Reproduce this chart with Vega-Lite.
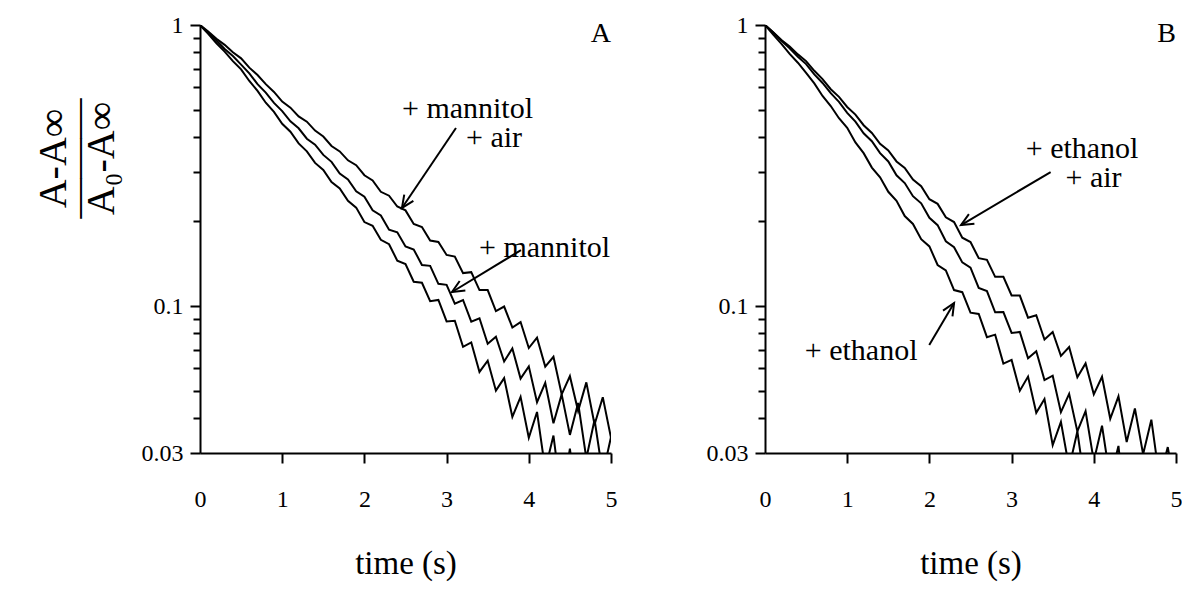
{
  "$schema": "https://vega.github.io/schema/vega-lite/v6.json",
  "padding": {"left": 33, "top": 13, "right": 5, "bottom": 5},
  "background": "white",
  "config": {
    "view": {"stroke": null},
    "text": {"font": "Liberation Serif", "color": "black"},
    "style": {"guide-label": {"fontSize": 24, "font": "Liberation Serif", "fill": "black"}},
    "axis": {
      "labelFont": "Liberation Serif", "titleFont": "Liberation Serif",
      "labelColor": "black", "titleColor": "black",
      "domainColor": "black", "tickColor": "black",
      "domainWidth": 2, "tickWidth": 2, "grid": false,
      "labelFontSize": 24, "titleFontWeight": "normal"
    }
  },
  "datasets": {
    "curves": [
      {"p":"A","s":"u","t":0,"v":1},{"p":"A","s":"u","t":0.1,"v":0.948},{"p":"A","s":"u","t":0.2,"v":0.894},{"p":"A","s":"u","t":0.3,"v":0.850},{"p":"A","s":"u","t":0.4,"v":0.800},{"p":"A","s":"u","t":0.5,"v":0.761},{"p":"A","s":"u","t":0.6,"v":0.705},{"p":"A","s":"u","t":0.7,"v":0.664},{"p":"A","s":"u","t":0.8,"v":0.616},{"p":"A","s":"u","t":0.9,"v":0.578},{"p":"A","s":"u","t":1.0,"v":0.534},{"p":"A","s":"u","t":1.1,"v":0.508},{"p":"A","s":"u","t":1.2,"v":0.473},{"p":"A","s":"u","t":1.3,"v":0.453},{"p":"A","s":"u","t":1.4,"v":0.421},{"p":"A","s":"u","t":1.5,"v":0.401},{"p":"A","s":"u","t":1.6,"v":0.371},{"p":"A","s":"u","t":1.7,"v":0.355},{"p":"A","s":"u","t":1.8,"v":0.330},{"p":"A","s":"u","t":1.9,"v":0.317},{"p":"A","s":"u","t":2.0,"v":0.292},{"p":"A","s":"u","t":2.1,"v":0.280},{"p":"A","s":"u","t":2.2,"v":0.255},{"p":"A","s":"u","t":2.3,"v":0.247},{"p":"A","s":"u","t":2.4,"v":0.226},{"p":"A","s":"u","t":2.5,"v":0.219},{"p":"A","s":"u","t":2.6,"v":0.196},{"p":"A","s":"u","t":2.7,"v":0.191},{"p":"A","s":"u","t":2.8,"v":0.171},{"p":"A","s":"u","t":2.9,"v":0.169},{"p":"A","s":"u","t":3.0,"v":0.152},{"p":"A","s":"u","t":3.1,"v":0.150},{"p":"A","s":"u","t":3.2,"v":0.131},{"p":"A","s":"u","t":3.3,"v":0.132},{"p":"A","s":"u","t":3.4,"v":0.114},{"p":"A","s":"u","t":3.5,"v":0.114},{"p":"A","s":"u","t":3.6,"v":0.096},{"p":"A","s":"u","t":3.7,"v":0.0996},{"p":"A","s":"u","t":3.8,"v":0.0839},{"p":"A","s":"u","t":3.9,"v":0.0877},{"p":"A","s":"u","t":4.0,"v":0.0709},{"p":"A","s":"u","t":4.1,"v":0.0772},{"p":"A","s":"u","t":4.2,"v":0.0609},{"p":"A","s":"u","t":4.3,"v":0.0660},{"p":"A","s":"u","t":4.4,"v":0.0485},{"p":"A","s":"u","t":4.5,"v":0.0563},{"p":"A","s":"u","t":4.6,"v":0.0423},{"p":"A","s":"u","t":4.7,"v":0.0535},{"p":"A","s":"u","t":4.8,"v":0.0379},{"p":"A","s":"u","t":4.9,"v":0.0474},{"p":"A","s":"u","t":5.0,"v":0.0340},
      {"p":"A","s":"m","t":0,"v":1},{"p":"A","s":"m","t":0.1,"v":0.937},{"p":"A","s":"m","t":0.2,"v":0.881},{"p":"A","s":"m","t":0.3,"v":0.822},{"p":"A","s":"m","t":0.4,"v":0.776},{"p":"A","s":"m","t":0.5,"v":0.723},{"p":"A","s":"m","t":0.6,"v":0.673},{"p":"A","s":"m","t":0.7,"v":0.616},{"p":"A","s":"m","t":0.8,"v":0.575},{"p":"A","s":"m","t":0.9,"v":0.528},{"p":"A","s":"m","t":1.0,"v":0.494},{"p":"A","s":"m","t":1.1,"v":0.454},{"p":"A","s":"m","t":1.2,"v":0.429},{"p":"A","s":"m","t":1.3,"v":0.394},{"p":"A","s":"m","t":1.4,"v":0.375},{"p":"A","s":"m","t":1.5,"v":0.345},{"p":"A","s":"m","t":1.6,"v":0.326},{"p":"A","s":"m","t":1.7,"v":0.296},{"p":"A","s":"m","t":1.8,"v":0.282},{"p":"A","s":"m","t":1.9,"v":0.256},{"p":"A","s":"m","t":2.0,"v":0.245},{"p":"A","s":"m","t":2.1,"v":0.219},{"p":"A","s":"m","t":2.2,"v":0.210},{"p":"A","s":"m","t":2.3,"v":0.187},{"p":"A","s":"m","t":2.4,"v":0.183},{"p":"A","s":"m","t":2.5,"v":0.163},{"p":"A","s":"m","t":2.6,"v":0.159},{"p":"A","s":"m","t":2.7,"v":0.140},{"p":"A","s":"m","t":2.8,"v":0.139},{"p":"A","s":"m","t":2.9,"v":0.120},{"p":"A","s":"m","t":3.0,"v":0.119},{"p":"A","s":"m","t":3.1,"v":0.102},{"p":"A","s":"m","t":3.2,"v":0.1051},{"p":"A","s":"m","t":3.3,"v":0.0880},{"p":"A","s":"m","t":3.4,"v":0.0905},{"p":"A","s":"m","t":3.5,"v":0.0734},{"p":"A","s":"m","t":3.6,"v":0.0778},{"p":"A","s":"m","t":3.7,"v":0.0635},{"p":"A","s":"m","t":3.8,"v":0.0707},{"p":"A","s":"m","t":3.9,"v":0.0552},{"p":"A","s":"m","t":4.0,"v":0.0610},{"p":"A","s":"m","t":4.1,"v":0.0455},{"p":"A","s":"m","t":4.2,"v":0.0533},{"p":"A","s":"m","t":4.3,"v":0.0383},{"p":"A","s":"m","t":4.4,"v":0.0485},{"p":"A","s":"m","t":4.5,"v":0.0348},{"p":"A","s":"m","t":4.6,"v":0.0452},{"p":"A","s":"m","t":4.7,"v":0.0287},{"p":"A","s":"m","t":4.8,"v":0.0394},{"p":"A","s":"m","t":4.9,"v":0.0252},{"p":"A","s":"m","t":5.0,"v":0.0342},
      {"p":"A","s":"l","t":0,"v":1},{"p":"A","s":"l","t":0.1,"v":0.930},{"p":"A","s":"l","t":0.2,"v":0.861},{"p":"A","s":"l","t":0.3,"v":0.804},{"p":"A","s":"l","t":0.4,"v":0.744},{"p":"A","s":"l","t":0.5,"v":0.695},{"p":"A","s":"l","t":0.6,"v":0.632},{"p":"A","s":"l","t":0.7,"v":0.583},{"p":"A","s":"l","t":0.8,"v":0.529},{"p":"A","s":"l","t":0.9,"v":0.491},{"p":"A","s":"l","t":1.0,"v":0.445},{"p":"A","s":"l","t":1.1,"v":0.417},{"p":"A","s":"l","t":1.2,"v":0.379},{"p":"A","s":"l","t":1.3,"v":0.355},{"p":"A","s":"l","t":1.4,"v":0.323},{"p":"A","s":"l","t":1.5,"v":0.305},{"p":"A","s":"l","t":1.6,"v":0.276},{"p":"A","s":"l","t":1.7,"v":0.262},{"p":"A","s":"l","t":1.8,"v":0.237},{"p":"A","s":"l","t":1.9,"v":0.224},{"p":"A","s":"l","t":2.0,"v":0.199},{"p":"A","s":"l","t":2.1,"v":0.193},{"p":"A","s":"l","t":2.2,"v":0.172},{"p":"A","s":"l","t":2.3,"v":0.166},{"p":"A","s":"l","t":2.4,"v":0.145},{"p":"A","s":"l","t":2.5,"v":0.141},{"p":"A","s":"l","t":2.6,"v":0.122},{"p":"A","s":"l","t":2.7,"v":0.121},{"p":"A","s":"l","t":2.8,"v":0.104},{"p":"A","s":"l","t":2.9,"v":0.1051},{"p":"A","s":"l","t":3.0,"v":0.0882},{"p":"A","s":"l","t":3.1,"v":0.0886},{"p":"A","s":"l","t":3.2,"v":0.0716},{"p":"A","s":"l","t":3.3,"v":0.0742},{"p":"A","s":"l","t":3.4,"v":0.0583},{"p":"A","s":"l","t":3.5,"v":0.0639},{"p":"A","s":"l","t":3.6,"v":0.0500},{"p":"A","s":"l","t":3.7,"v":0.0554},{"p":"A","s":"l","t":3.8,"v":0.0403},{"p":"A","s":"l","t":3.9,"v":0.0475},{"p":"A","s":"l","t":4.0,"v":0.0340},{"p":"A","s":"l","t":4.1,"v":0.0420},{"p":"A","s":"l","t":4.2,"v":0.0262},{"p":"A","s":"l","t":4.3,"v":0.0346},{"p":"A","s":"l","t":4.4,"v":0.0203},{"p":"A","s":"l","t":4.5,"v":0.0311},{"p":"A","s":"l","t":4.6,"v":0.0181},{"p":"A","s":"l","t":4.7,"v":0.0283},{"p":"A","s":"l","t":4.8,"v":0.0136},{"p":"A","s":"l","t":4.9,"v":0.0260},{"p":"A","s":"l","t":5.0,"v":0.0116},
      {"p":"B","s":"u","t":0,"v":1},{"p":"B","s":"u","t":0.1,"v":0.943},{"p":"B","s":"u","t":0.2,"v":0.885},{"p":"B","s":"u","t":0.3,"v":0.838},{"p":"B","s":"u","t":0.4,"v":0.786},{"p":"B","s":"u","t":0.5,"v":0.744},{"p":"B","s":"u","t":0.6,"v":0.687},{"p":"B","s":"u","t":0.7,"v":0.642},{"p":"B","s":"u","t":0.8,"v":0.591},{"p":"B","s":"u","t":0.9,"v":0.555},{"p":"B","s":"u","t":1.0,"v":0.511},{"p":"B","s":"u","t":1.1,"v":0.480},{"p":"B","s":"u","t":1.2,"v":0.440},{"p":"B","s":"u","t":1.3,"v":0.413},{"p":"B","s":"u","t":1.4,"v":0.378},{"p":"B","s":"u","t":1.5,"v":0.358},{"p":"B","s":"u","t":1.6,"v":0.327},{"p":"B","s":"u","t":1.7,"v":0.310},{"p":"B","s":"u","t":1.8,"v":0.282},{"p":"B","s":"u","t":1.9,"v":0.267},{"p":"B","s":"u","t":2.0,"v":0.240},{"p":"B","s":"u","t":2.1,"v":0.231},{"p":"B","s":"u","t":2.2,"v":0.207},{"p":"B","s":"u","t":2.3,"v":0.199},{"p":"B","s":"u","t":2.4,"v":0.175},{"p":"B","s":"u","t":2.5,"v":0.169},{"p":"B","s":"u","t":2.6,"v":0.148},{"p":"B","s":"u","t":2.7,"v":0.146},{"p":"B","s":"u","t":2.8,"v":0.127},{"p":"B","s":"u","t":2.9,"v":0.127},{"p":"B","s":"u","t":3.0,"v":0.109},{"p":"B","s":"u","t":3.1,"v":0.109},{"p":"B","s":"u","t":3.2,"v":0.0909},{"p":"B","s":"u","t":3.3,"v":0.0927},{"p":"B","s":"u","t":3.4,"v":0.0760},{"p":"B","s":"u","t":3.5,"v":0.0809},{"p":"B","s":"u","t":3.6,"v":0.0665},{"p":"B","s":"u","t":3.7,"v":0.0715},{"p":"B","s":"u","t":3.8,"v":0.0558},{"p":"B","s":"u","t":3.9,"v":0.0625},{"p":"B","s":"u","t":4.0,"v":0.0485},{"p":"B","s":"u","t":4.1,"v":0.0560},{"p":"B","s":"u","t":4.2,"v":0.0397},{"p":"B","s":"u","t":4.3,"v":0.0477},{"p":"B","s":"u","t":4.4,"v":0.0328},{"p":"B","s":"u","t":4.5,"v":0.0432},{"p":"B","s":"u","t":4.6,"v":0.0297},{"p":"B","s":"u","t":4.7,"v":0.0394},{"p":"B","s":"u","t":4.8,"v":0.0242},{"p":"B","s":"u","t":4.9,"v":0.0315},{"p":"B","s":"u","t":5.0,"v":0.0213},
      {"p":"B","s":"m","t":0,"v":1},{"p":"B","s":"m","t":0.1,"v":0.940},{"p":"B","s":"m","t":0.2,"v":0.878},{"p":"B","s":"m","t":0.3,"v":0.827},{"p":"B","s":"m","t":0.4,"v":0.771},{"p":"B","s":"m","t":0.5,"v":0.726},{"p":"B","s":"m","t":0.6,"v":0.667},{"p":"B","s":"m","t":0.7,"v":0.622},{"p":"B","s":"m","t":0.8,"v":0.572},{"p":"B","s":"m","t":0.9,"v":0.533},{"p":"B","s":"m","t":1.0,"v":0.487},{"p":"B","s":"m","t":1.1,"v":0.453},{"p":"B","s":"m","t":1.2,"v":0.412},{"p":"B","s":"m","t":1.3,"v":0.386},{"p":"B","s":"m","t":1.4,"v":0.350},{"p":"B","s":"m","t":1.5,"v":0.327},{"p":"B","s":"m","t":1.6,"v":0.292},{"p":"B","s":"m","t":1.7,"v":0.274},{"p":"B","s":"m","t":1.8,"v":0.246},{"p":"B","s":"m","t":1.9,"v":0.232},{"p":"B","s":"m","t":2.0,"v":0.206},{"p":"B","s":"m","t":2.1,"v":0.194},{"p":"B","s":"m","t":2.2,"v":0.170},{"p":"B","s":"m","t":2.3,"v":0.162},{"p":"B","s":"m","t":2.4,"v":0.143},{"p":"B","s":"m","t":2.5,"v":0.137},{"p":"B","s":"m","t":2.6,"v":0.116},{"p":"B","s":"m","t":2.7,"v":0.113},{"p":"B","s":"m","t":2.8,"v":0.095},{"p":"B","s":"m","t":2.9,"v":0.0952},{"p":"B","s":"m","t":3.0,"v":0.0802},{"p":"B","s":"m","t":3.1,"v":0.0809},{"p":"B","s":"m","t":3.2,"v":0.0652},{"p":"B","s":"m","t":3.3,"v":0.0691},{"p":"B","s":"m","t":3.4,"v":0.0545},{"p":"B","s":"m","t":3.5,"v":0.0565},{"p":"B","s":"m","t":3.6,"v":0.0419},{"p":"B","s":"m","t":3.7,"v":0.0487},{"p":"B","s":"m","t":3.8,"v":0.0358},{"p":"B","s":"m","t":3.9,"v":0.0423},{"p":"B","s":"m","t":4.0,"v":0.0281},{"p":"B","s":"m","t":4.1,"v":0.0375},{"p":"B","s":"m","t":4.2,"v":0.0241},{"p":"B","s":"m","t":4.3,"v":0.0318},{"p":"B","s":"m","t":4.4,"v":0.0168},{"p":"B","s":"m","t":4.5,"v":0.0269},{"p":"B","s":"m","t":4.6,"v":0.0141},{"p":"B","s":"m","t":4.7,"v":0.0265},{"p":"B","s":"m","t":4.8,"v":0.0121},{"p":"B","s":"m","t":4.9,"v":0.0227},{"p":"B","s":"m","t":5.0,"v":0.0105},
      {"p":"B","s":"l","t":0,"v":1},{"p":"B","s":"l","t":0.1,"v":0.924},{"p":"B","s":"l","t":0.2,"v":0.857},{"p":"B","s":"l","t":0.3,"v":0.789},{"p":"B","s":"l","t":0.4,"v":0.734},{"p":"B","s":"l","t":0.5,"v":0.675},{"p":"B","s":"l","t":0.6,"v":0.620},{"p":"B","s":"l","t":0.7,"v":0.559},{"p":"B","s":"l","t":0.8,"v":0.515},{"p":"B","s":"l","t":0.9,"v":0.466},{"p":"B","s":"l","t":1.0,"v":0.431},{"p":"B","s":"l","t":1.1,"v":0.382},{"p":"B","s":"l","t":1.2,"v":0.350},{"p":"B","s":"l","t":1.3,"v":0.311},{"p":"B","s":"l","t":1.4,"v":0.287},{"p":"B","s":"l","t":1.5,"v":0.255},{"p":"B","s":"l","t":1.6,"v":0.237},{"p":"B","s":"l","t":1.7,"v":0.209},{"p":"B","s":"l","t":1.8,"v":0.196},{"p":"B","s":"l","t":1.9,"v":0.173},{"p":"B","s":"l","t":2.0,"v":0.163},{"p":"B","s":"l","t":2.1,"v":0.140},{"p":"B","s":"l","t":2.2,"v":0.134},{"p":"B","s":"l","t":2.3,"v":0.114},{"p":"B","s":"l","t":2.4,"v":0.112},{"p":"B","s":"l","t":2.5,"v":0.0947},{"p":"B","s":"l","t":2.6,"v":0.0937},{"p":"B","s":"l","t":2.7,"v":0.0775},{"p":"B","s":"l","t":2.8,"v":0.0791},{"p":"B","s":"l","t":2.9,"v":0.0624},{"p":"B","s":"l","t":3.0,"v":0.0643},{"p":"B","s":"l","t":3.1,"v":0.0500},{"p":"B","s":"l","t":3.2,"v":0.0561},{"p":"B","s":"l","t":3.3,"v":0.0417},{"p":"B","s":"l","t":3.4,"v":0.0467},{"p":"B","s":"l","t":3.5,"v":0.0320},{"p":"B","s":"l","t":3.6,"v":0.0387},{"p":"B","s":"l","t":3.7,"v":0.0266},{"p":"B","s":"l","t":3.8,"v":0.0358},{"p":"B","s":"l","t":3.9,"v":0.0223},{"p":"B","s":"l","t":4.0,"v":0.0300},{"p":"B","s":"l","t":4.1,"v":0.0159},{"p":"B","s":"l","t":4.2,"v":0.0250},{"p":"B","s":"l","t":4.3,"v":0.0112},{"p":"B","s":"l","t":4.4,"v":0.0226},{"p":"B","s":"l","t":4.5,"v":0.0101},{"p":"B","s":"l","t":4.6,"v":0.0219},{"p":"B","s":"l","t":4.7,"v":0.0068},{"p":"B","s":"l","t":4.8,"v":0.0188},{"p":"B","s":"l","t":4.9,"v":0.0059},{"p":"B","s":"l","t":5.0,"v":0.0160}
    ],
    "notes": [
      {"p":"A","label":"+ mannitol","t":2.457,"v":0.4667},
      {"p":"A","label":"+ air","t":3.236,"v":0.368},
      {"p":"A","label":"+ mannitol","t":3.394,"v":0.1494},
      {"p":"B","label":"+ ethanol","t":3.172,"v":0.3362},
      {"p":"B","label":"+ air","t":3.656,"v":0.2652},
      {"p":"B","label":"+ ethanol","t":0.484,"v":0.0643}
    ],
    "letters": [
      {"p":"A","label":"A","t":5,"v":0.87},
      {"p":"B","label":"B","t":5,"v":0.87}
    ],
    "arrows": [
      {"p":"A","id":1,"t1":3.114,"v1":0.430,"t2":2.457,"v2":0.2234},
      {"p":"A","id":2,"t1":3.905,"v1":0.1582,"t2":3.066,"v2":0.1122},
      {"p":"B","id":1,"t1":3.475,"v1":0.2998,"t2":2.385,"v2":0.1942},
      {"p":"B","id":2,"t1":1.998,"v1":0.0727,"t2":2.300,"v2":0.1025}
    ]
  },
  "spacing": 89,
  "hconcat": [
    {
      "width": 411, "height": 428,
      "layer": [
        {
          "data": {"name": "curves"},
          "transform": [{"filter": "datum.p == 'A'"}],
          "mark": {"type": "line", "clip": true, "color": "black", "strokeWidth": 2},
          "encoding": {
            "x": {"field": "t", "type": "quantitative", "scale": {"domain": [0, 5], "nice": false},
              "title": "time (s)",
              "axis": {"values": [0,1,2,3,4,5], "format": "d", "tickSize": 10, "labelPadding": 24, "labelFlush": false, "labelOverlap": false,
                "labelFontSize": 24, "labelFont": "Liberation Serif",
                "encode": {"labels": {"update": {"fontSize": {"value": 24}}}},
                "tickOpacity": {"condition": {"test": "datum.value == 0", "value": 0}, "value": 1},
                "titleFontSize": 33, "titlePadding": 36}},
            "y": {"field": "v", "type": "quantitative", "scale": {"type": "log", "domain": [0.03, 1], "nice": false},
              "title": ["A-A∞", "———", "A₀-A∞"],
              "axis": {"values": [1,0.9,0.8,0.7,0.6,0.5,0.4,0.3,0.2,0.1,0.09,0.08,0.07,0.06,0.05,0.04,0.03],
                "labelExpr": "datum.value > 0.999 ? '1' : (datum.value > 0.0999 && datum.value < 0.1001) ? '0.1' : datum.value < 0.0301 ? '0.03' : ''",
                "tickSize": {"condition": {"test": "datum.value > 0.999 || (datum.value > 0.0999 && datum.value < 0.1001) || datum.value < 0.0301", "value": 10}, "value": 7},
                "labelFontSize": 24, "labelFont": "Liberation Serif",
                "encode": {"labels": {"update": {"fontSize": {"value": 24}}}},
                "labelPadding": 7, "labelOverlap": false, "labelFlush": false, "labelBound": false,
                "titleFontSize": 40, "titleLineHeight": 24,
                "titleAngle": 270, "titleAlign": "center", "titleBaseline": "middle", "titleX": -147, "titleY": 133}},
            "detail": {"field": "s"}
          }
        },
        {
          "data": {"name": "arrows"},
          "transform": [{"filter": "datum.p == 'A'"}],
          "mark": {"type": "rule", "color": "black", "strokeWidth": 2},
          "encoding": {
            "x": {"field": "t1", "type": "quantitative", "title": "time (s)"},
            "y": {"field": "v1", "type": "quantitative", "title": ["A-A∞", "———", "A₀-A∞"]},
            "x2": {"field": "t2"}, "y2": {"field": "v2"}
          }
        },
        {
          "data": {"name": "arrows"},
          "transform": [{"filter": "datum.p == 'A' && datum.id == 1"}],
          "mark": {"type": "point", "shape": "M-1,-0.45L0,0L-1,0.45", "filled": false, "size": 600, "strokeWidth": 2, "color": "black", "opacity": 1, "angle": 124},
          "encoding": {"x": {"field": "t2", "type": "quantitative", "title": "time (s)"}, "y": {"field": "v2", "type": "quantitative", "title": ["A-A∞", "———", "A₀-A∞"]}}
        },
        {
          "data": {"name": "arrows"},
          "transform": [{"filter": "datum.p == 'A' && datum.id == 2"}],
          "mark": {"type": "point", "shape": "M-1,-0.45L0,0L-1,0.45", "filled": false, "size": 600, "strokeWidth": 2, "color": "black", "opacity": 1, "angle": 149},
          "encoding": {"x": {"field": "t2", "type": "quantitative", "title": "time (s)"}, "y": {"field": "v2", "type": "quantitative", "title": ["A-A∞", "———", "A₀-A∞"]}}
        },
        {
          "data": {"name": "notes"},
          "transform": [{"filter": "datum.p == 'A'"}],
          "mark": {"type": "text", "align": "left", "baseline": "alphabetic", "fontSize": 30, "font": "Liberation Serif", "color": "black"},
          "encoding": {"x": {"field": "t", "type": "quantitative", "title": "time (s)"}, "y": {"field": "v", "type": "quantitative", "title": ["A-A∞", "———", "A₀-A∞"]}, "text": {"field": "label"}}
        },
        {
          "data": {"name": "letters"},
          "transform": [{"filter": "datum.p == 'A'"}],
          "mark": {"type": "text", "align": "right", "baseline": "alphabetic", "fontSize": 28, "font": "Liberation Serif", "color": "black"},
          "encoding": {"x": {"field": "t", "type": "quantitative", "title": "time (s)"}, "y": {"field": "v", "type": "quantitative", "title": ["A-A∞", "———", "A₀-A∞"]}, "text": {"field": "label"}}
        }
      ]
    },
    {
      "width": 411, "height": 428,
      "layer": [
        {
          "data": {"name": "curves"},
          "transform": [{"filter": "datum.p == 'B'"}],
          "mark": {"type": "line", "clip": true, "color": "black", "strokeWidth": 2},
          "encoding": {
            "x": {"field": "t", "type": "quantitative", "scale": {"domain": [0, 5], "nice": false},
              "title": "time (s)",
              "axis": {"values": [0,1,2,3,4,5], "format": "d", "tickSize": 10, "labelPadding": 24, "labelFlush": false, "labelOverlap": false,
                "labelFontSize": 24, "labelFont": "Liberation Serif",
                "encode": {"labels": {"update": {"fontSize": {"value": 24}}}},
                "tickOpacity": {"condition": {"test": "datum.value == 0", "value": 0}, "value": 1},
                "titleFontSize": 33, "titlePadding": 36}},
            "y": {"field": "v", "type": "quantitative", "scale": {"type": "log", "domain": [0.03, 1], "nice": false},
              "title": null,
              "axis": {"values": [1,0.9,0.8,0.7,0.6,0.5,0.4,0.3,0.2,0.1,0.09,0.08,0.07,0.06,0.05,0.04,0.03],
                "labelExpr": "datum.value > 0.999 ? '1' : (datum.value > 0.0999 && datum.value < 0.1001) ? '0.1' : datum.value < 0.0301 ? '0.03' : ''",
                "tickSize": {"condition": {"test": "datum.value > 0.999 || (datum.value > 0.0999 && datum.value < 0.1001) || datum.value < 0.0301", "value": 10}, "value": 7},
                "labelFontSize": 24, "labelFont": "Liberation Serif",
                "encode": {"labels": {"update": {"fontSize": {"value": 24}}}},
                "labelPadding": 7, "labelOverlap": false, "labelFlush": false, "labelBound": false}},
            "detail": {"field": "s"}
          }
        },
        {
          "data": {"name": "arrows"},
          "transform": [{"filter": "datum.p == 'B'"}],
          "mark": {"type": "rule", "color": "black", "strokeWidth": 2},
          "encoding": {
            "x": {"field": "t1", "type": "quantitative", "title": "time (s)"},
            "y": {"field": "v1", "type": "quantitative", "title": null},
            "x2": {"field": "t2"}, "y2": {"field": "v2"}
          }
        },
        {
          "data": {"name": "arrows"},
          "transform": [{"filter": "datum.p == 'B' && datum.id == 1"}],
          "mark": {"type": "point", "shape": "M-1,-0.45L0,0L-1,0.45", "filled": false, "size": 600, "strokeWidth": 2, "color": "black", "opacity": 1, "angle": 150},
          "encoding": {"x": {"field": "t2", "type": "quantitative", "title": "time (s)"}, "y": {"field": "v2", "type": "quantitative", "title": null}}
        },
        {
          "data": {"name": "arrows"},
          "transform": [{"filter": "datum.p == 'B' && datum.id == 2"}],
          "mark": {"type": "point", "shape": "M-1,-0.45L0,0L-1,0.45", "filled": false, "size": 600, "strokeWidth": 2, "color": "black", "opacity": 1, "angle": 301},
          "encoding": {"x": {"field": "t2", "type": "quantitative", "title": "time (s)"}, "y": {"field": "v2", "type": "quantitative", "title": null}}
        },
        {
          "data": {"name": "notes"},
          "transform": [{"filter": "datum.p == 'B'"}],
          "mark": {"type": "text", "align": "left", "baseline": "alphabetic", "fontSize": 30, "font": "Liberation Serif", "color": "black"},
          "encoding": {"x": {"field": "t", "type": "quantitative", "title": "time (s)"}, "y": {"field": "v", "type": "quantitative", "title": null}, "text": {"field": "label"}}
        },
        {
          "data": {"name": "letters"},
          "transform": [{"filter": "datum.p == 'B'"}],
          "mark": {"type": "text", "align": "right", "baseline": "alphabetic", "fontSize": 28, "font": "Liberation Serif", "color": "black"},
          "encoding": {"x": {"field": "t", "type": "quantitative", "title": "time (s)"}, "y": {"field": "v", "type": "quantitative", "title": null}, "text": {"field": "label"}}
        }
      ]
    }
  ]
}
